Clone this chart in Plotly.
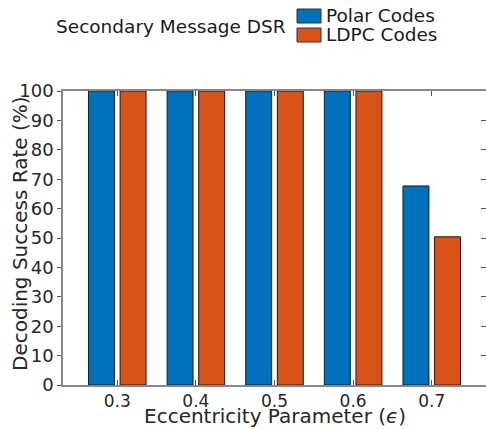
import plotly.graph_objects as go

eps = [0.3, 0.4, 0.5, 0.6, 0.7]
polar = [100, 100, 100, 100, 67.7]
ldpc = [100, 100, 100, 100, 50.4]
series_names = ["Polar Codes", "LDPC Codes"]
colors = ["#0072BD", "#D95319"]
x_title = "Eccentricity Parameter (<i>ϵ</i>)"
y_title = "Decoding Success Rate (%)"
legend_title = "Secondary Message DSR"

W = 0.033
G = 0.0036
FONT = "DejaVu Sans"
TXT = "#262626"

L, T, PW, PH = 63, 91, 423, 294


def px(x):
    return (x - L) / PW


def py(y):
    return (T + PH - y) / PH


fig = go.Figure()
fig.add_trace(go.Bar(x=eps, y=polar, width=W, offset=-G - W, name=series_names[0],
                     marker=dict(color=colors[0], line=dict(color="#1a1a1a", width=1)),
                     showlegend=False))
fig.add_trace(go.Bar(x=eps, y=ldpc, width=W, offset=G, name=series_names[1],
                     marker=dict(color=colors[1], line=dict(color="#1a1a1a", width=1)),
                     showlegend=False))
# invisible trace for right-side inward ticks
fig.add_trace(go.Scatter(x=[eps[0]], y=[0], yaxis="y2", mode="markers",
                         marker=dict(opacity=0), showlegend=False, hoverinfo="skip"))

fig.update_layout(
    width=486, height=429,
    margin=dict(l=L, r=486 - L - PW, t=T, b=429 - T - PH),
    paper_bgcolor="white", plot_bgcolor="white",
    barmode="overlay",
    font=dict(family=FONT, color=TXT),
    xaxis=dict(range=[0.231, 0.769], tickvals=eps, ticktext=[f"{v:.1f}" for v in eps],
               ticks="inside", ticklen=5, tickcolor="#555", mirror="ticks",
               showline=True, linecolor="#888", linewidth=1.5, showgrid=False, zeroline=False,
               tickfont=dict(size=17, color=TXT), automargin=False),
    yaxis=dict(range=[0, 100], dtick=10, ticks="outside", ticklen=4, tickcolor="#555",
               showline=True, linecolor="#888", linewidth=1.5, showgrid=False, zeroline=False,
               tickfont=dict(size=18, color=TXT), automargin=False),
    yaxis2=dict(range=[0, 100], dtick=10, overlaying="y", side="right", ticks="inside",
                ticklen=5, tickcolor="#555", showticklabels=False, showline=False,
                showgrid=False, zeroline=False),
)

# axis titles
fig.add_annotation(text=x_title, xref="paper", yref="paper", x=px(275), y=py(429),
                   xanchor="center", yanchor="bottom", showarrow=False,
                   font=dict(size=20, color=TXT), borderpad=0)
fig.add_annotation(text=y_title, xref="paper", yref="paper", x=px(20), y=py(234),
                   xanchor="center", yanchor="middle", showarrow=False, textangle=-90,
                   font=dict(size=20, color=TXT))

# legend drawn manually
fig.add_annotation(text=legend_title, xref="paper", yref="paper",
                   x=px(288), y=py(26), xanchor="right", yanchor="middle",
                   showarrow=False, font=dict(size=18.5, color="#1a1a1a"))
for i, (name, c) in enumerate(zip(series_names, colors)):
    yc = 16 + i * 19
    fig.add_shape(type="rect", xref="paper", yref="paper",
                  x0=px(297), x1=px(321), y0=py(yc - 7), y1=py(yc + 7),
                  fillcolor=c, line=dict(color="#333", width=1))
    fig.add_annotation(text=name, xref="paper", yref="paper",
                       x=px(324), y=py(yc - 0.5), xanchor="left", yanchor="middle",
                       showarrow=False, font=dict(size=18.5, color="#1a1a1a"))

fig.write_html("out.html")
